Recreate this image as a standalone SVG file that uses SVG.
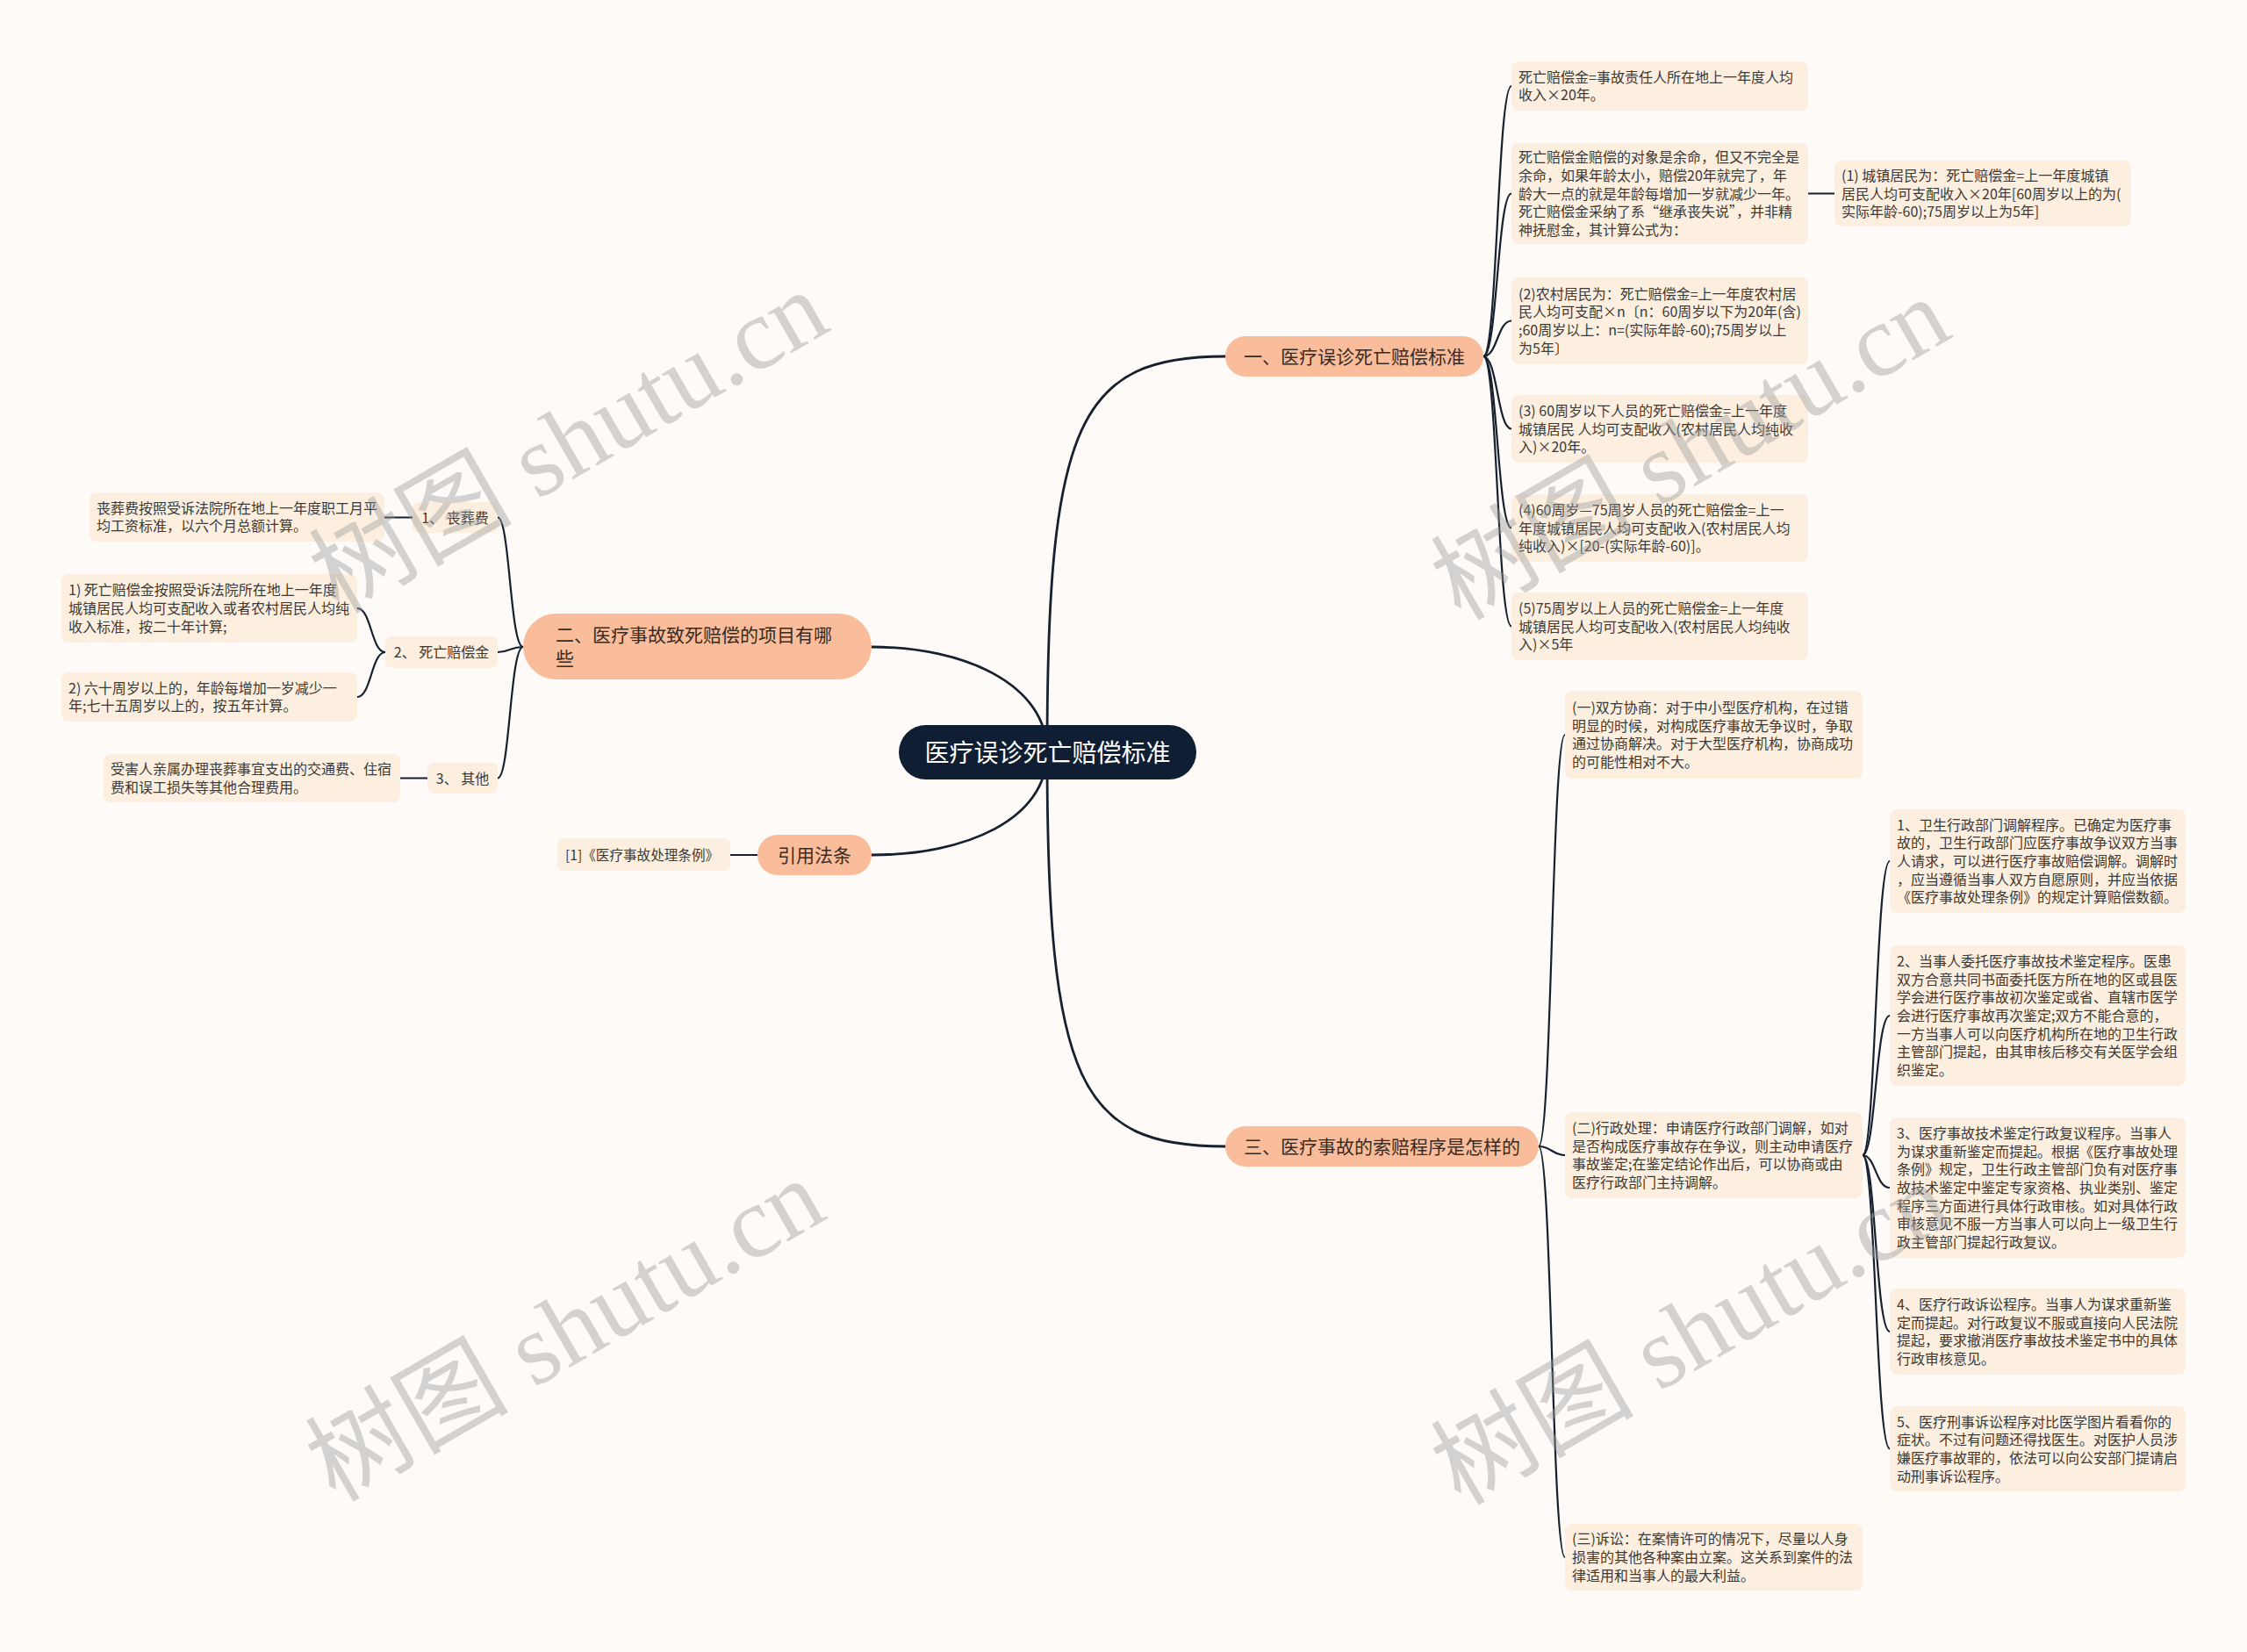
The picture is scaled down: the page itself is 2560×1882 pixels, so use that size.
<svg xmlns="http://www.w3.org/2000/svg" width="2560" height="1882" viewBox="0 0 2560 1882">
<style>
.bg{fill:#fdfaf7}
.ln{fill:none;stroke:#17202e;stroke-width:2.2;stroke-linecap:round}
.lnm{fill:none;stroke:#17202e;stroke-width:2.8;stroke-linecap:round}
.root{fill:#0f1e33}
.rt{font-family:"Noto Sans CJK SC","Noto Sans",sans-serif;font-size:28px;fill:#ffffff;text-anchor:middle}
.br{fill:#f9bd9b}
.bt{font-family:"Noto Sans CJK SC","Noto Sans",sans-serif;font-size:21px;fill:#3a2b22}
.btc{text-anchor:middle}
.lf{fill:#fcefe0}
.lt{font-family:"Noto Sans CJK SC","Noto Sans",sans-serif;font-size:16px;fill:#3d3935}
.ltc{text-anchor:middle}
.wm{font-family:"Liberation Serif","Noto Sans CJK SC",serif;font-size:116px;fill:#9a9a9a;fill-opacity:0.42;text-anchor:middle}
</style>
<rect class="bg" x="0" y="0" width="2560" height="1882"/>

<g id="connectors">
  <path class="lnm" d="M1193 857 C1193 480 1230 406 1396 406"/>
  <path class="lnm" d="M1193 857 C1193 1234 1230 1306 1396 1306"/>
  <path class="lnm" d="M993 737 C1100 737 1193 780 1193 857"/>
  <path class="lnm" d="M993 974 C1100 974 1193 934 1193 857"/>
  <path class="ln" d="M1690 406 C1706 406 1706 98 1722 98"/>
  <path class="ln" d="M1690 406 C1706 406 1706 220.5 1722 220.5"/>
  <path class="ln" d="M1690 406 C1706 406 1706 365.5 1722 365.5"/>
  <path class="ln" d="M1690 406 C1706 406 1706 488.5 1722 488.5"/>
  <path class="ln" d="M1690 406 C1706 406 1706 601.5 1722 601.5"/>
  <path class="ln" d="M1690 406 C1706 406 1706 713.5 1722 713.5"/>
  <path class="ln" d="M2060 220.5 L2090 220.5"/>
  <path class="ln" d="M1753 1306 C1768 1306 1768 837 1783 837"/>
  <path class="ln" d="M1753 1306 C1768 1306 1768 1316 1783 1316"/>
  <path class="ln" d="M1753 1306 C1768 1306 1768 1774 1783 1774"/>
  <path class="ln" d="M2122 1316 C2137 1316 2137 981 2153 981"/>
  <path class="ln" d="M2122 1316 C2137 1316 2137 1157 2153 1157"/>
  <path class="ln" d="M2122 1316 C2137 1316 2137 1353 2153 1353"/>
  <path class="ln" d="M2122 1316 C2137 1316 2137 1517 2153 1517"/>
  <path class="ln" d="M2122 1316 C2137 1316 2137 1650.5 2153 1650.5"/>
  <path class="ln" d="M596 737 C581 737 581 589.5 567 589.5"/>
  <path class="ln" d="M596 737 C581 737 581 743 567 743"/>
  <path class="ln" d="M596 737 C581 737 581 886.5 567 886.5"/>
  <path class="ln" d="M438 589.5 L470 589.5"/>
  <path class="ln" d="M456 886.5 L487 886.5"/>
  <path class="ln" d="M439 743 C423 743 423 693 407 693"/>
  <path class="ln" d="M439 743 C423 743 423 794 407 794"/>
  <path class="ln" d="M832 974 L863 974"/>
</g>

<g id="root">
  <rect class="root" x="1024" y="826" width="339" height="62" rx="31"/>
  <text class="rt" x="1193.5" y="867.5">医疗误诊死亡赔偿标准</text>
</g>

<g id="branch1">
  <rect class="br" x="1396" y="383" width="294" height="46" rx="23"/>
  <text class="bt btc" x="1543" y="414">一、医疗误诊死亡赔偿标准</text>
</g>
<g id="branch2">
  <rect class="br" x="596" y="699" width="397" height="75" rx="37.5"/>
  <text class="bt" x="633" y="731">二、医疗事故致死赔偿的项目有哪</text>
  <text class="bt" x="633" y="758">些</text>
</g>
<g id="branch3">
  <rect class="br" x="1396" y="1283" width="357" height="46" rx="23"/>
  <text class="bt btc" x="1574.5" y="1314">三、医疗事故的索赔程序是怎样的</text>
</g>
<g id="branch4">
  <rect class="br" x="863" y="951" width="130" height="46" rx="23"/>
  <text class="bt btc" x="928" y="982">引用法条</text>
</g>

<g id="n1a">
  <rect class="lf" x="1722" y="70" width="338" height="56" rx="8"/>
  <text class="lt" x="1730" y="93.6">死亡赔偿金=事故责任人所在地上一年度人均</text>
  <text class="lt" x="1730" y="114.4">收入×20年。</text>
</g>
<g id="n1b">
  <rect class="lf" x="1722" y="163" width="338" height="115" rx="8"/>
  <text class="lt" x="1730" y="185">死亡赔偿金赔偿的对象是余命，但又不完全是</text>
  <text class="lt" x="1730" y="206">余命，如果年龄太小，赔偿20年就完了，年</text>
  <text class="lt" x="1730" y="226.5">龄大一点的就是年龄每增加一岁就减少一年。</text>
  <text class="lt" x="1730" y="247">死亡赔偿金采纳了系“继承丧失说”，并非精</text>
  <text class="lt" x="1730" y="268">神抚慰金，其计算公式为：</text>
</g>
<g id="n1b1">
  <rect class="lf" x="2090" y="183" width="338" height="75" rx="8"/>
  <text class="lt" x="2098" y="206">(1) 城镇居民为：死亡赔偿金=上一年度城镇</text>
  <text class="lt" x="2098" y="226.5">居民人均可支配收入×20年[60周岁以上的为(</text>
  <text class="lt" x="2098" y="247">实际年龄-60);75周岁以上为5年]</text>
</g>
<g id="n1c">
  <rect class="lf" x="1722" y="316" width="338" height="99" rx="8"/>
  <text class="lt" x="1730" y="340.5">(2)农村居民为：死亡赔偿金=上一年度农村居</text>
  <text class="lt" x="1730" y="361">民人均可支配×n〔n：60周岁以下为20年(含)</text>
  <text class="lt" x="1730" y="382">;60周岁以上：n=(实际年龄-60);75周岁以上</text>
  <text class="lt" x="1730" y="402.5">为5年〕</text>
</g>
<g id="n1d">
  <rect class="lf" x="1722" y="450" width="338" height="77" rx="8"/>
  <text class="lt" x="1730" y="474">(3) 60周岁以下人员的死亡赔偿金=上一年度</text>
  <text class="lt" x="1730" y="494.5">城镇居民 人均可支配收入(农村居民人均纯收</text>
  <text class="lt" x="1730" y="515">入)×20年。</text>
</g>
<g id="n1e">
  <rect class="lf" x="1722" y="563" width="338" height="77" rx="8"/>
  <text class="lt" x="1730" y="587">(4)60周岁—75周岁人员的死亡赔偿金=上一</text>
  <text class="lt" x="1730" y="607.5">年度城镇居民人均可支配收入(农村居民人均</text>
  <text class="lt" x="1730" y="628">纯收入)×[20-(实际年龄-60)]。</text>
</g>
<g id="n1f">
  <rect class="lf" x="1722" y="675" width="338" height="77" rx="8"/>
  <text class="lt" x="1730" y="699">(5)75周岁以上人员的死亡赔偿金=上一年度</text>
  <text class="lt" x="1730" y="719.5">城镇居民人均可支配收入(农村居民人均纯收</text>
  <text class="lt" x="1730" y="740">入)×5年</text>
</g>

<g id="n3a">
  <rect class="lf" x="1783" y="787" width="339" height="100" rx="8"/>
  <text class="lt" x="1791" y="812">(一)双方协商：对于中小型医疗机构，在过错</text>
  <text class="lt" x="1791" y="832.7">明显的时候，对构成医疗事故无争议时，争取</text>
  <text class="lt" x="1791" y="853.4">通过协商解决。对于大型医疗机构，协商成功</text>
  <text class="lt" x="1791" y="874">的可能性相对不大。</text>
</g>
<g id="n3b">
  <rect class="lf" x="1783" y="1267" width="339" height="98" rx="8"/>
  <text class="lt" x="1791" y="1291">(二)行政处理：申请医疗行政部门调解，如对</text>
  <text class="lt" x="1791" y="1311.7">是否构成医疗事故存在争议，则主动申请医疗</text>
  <text class="lt" x="1791" y="1332.4">事故鉴定;在鉴定结论作出后，可以协商或由</text>
  <text class="lt" x="1791" y="1353">医疗行政部门主持调解。</text>
</g>
<g id="n3c">
  <rect class="lf" x="1783" y="1736" width="339" height="76" rx="8"/>
  <text class="lt" x="1791" y="1759.3">(三)诉讼：在案情许可的情况下，尽量以人身</text>
  <text class="lt" x="1791" y="1780">损害的其他各种案由立案。这关系到案件的法</text>
  <text class="lt" x="1791" y="1800.7">律适用和当事人的最大利益。</text>
</g>

<g id="n3b1">
  <rect class="lf" x="2153" y="922" width="337" height="118" rx="8"/>
  <text class="lt" x="2161" y="945.6">1、卫生行政部门调解程序。已确定为医疗事</text>
  <text class="lt" x="2161" y="966.3">故的，卫生行政部门应医疗事故争议双方当事</text>
  <text class="lt" x="2161" y="987">人请求，可以进行医疗事故赔偿调解。调解时</text>
  <text class="lt" x="2161" y="1007.7">，应当遵循当事人双方自愿原则，并应当依据</text>
  <text class="lt" x="2161" y="1028.4">《医疗事故处理条例》的规定计算赔偿数额。</text>
</g>
<g id="n3b2">
  <rect class="lf" x="2153" y="1077" width="337" height="160" rx="8"/>
  <text class="lt" x="2161" y="1100.9">2、当事人委托医疗事故技术鉴定程序。医患</text>
  <text class="lt" x="2161" y="1121.6">双方合意共同书面委托医方所在地的区或县医</text>
  <text class="lt" x="2161" y="1142.3">学会进行医疗事故初次鉴定或省、直辖市医学</text>
  <text class="lt" x="2161" y="1163">会进行医疗事故再次鉴定;双方不能合意的，</text>
  <text class="lt" x="2161" y="1183.7">一方当事人可以向医疗机构所在地的卫生行政</text>
  <text class="lt" x="2161" y="1204.4">主管部门提起，由其审核后移交有关医学会组</text>
  <text class="lt" x="2161" y="1225.1">织鉴定。</text>
</g>
<g id="n3b3">
  <rect class="lf" x="2153" y="1273" width="337" height="160" rx="8"/>
  <text class="lt" x="2161" y="1296.9">3、医疗事故技术鉴定行政复议程序。当事人</text>
  <text class="lt" x="2161" y="1317.6">为谋求重新鉴定而提起。根据《医疗事故处理</text>
  <text class="lt" x="2161" y="1338.3">条例》规定，卫生行政主管部门负有对医疗事</text>
  <text class="lt" x="2161" y="1359">故技术鉴定中鉴定专家资格、执业类别、鉴定</text>
  <text class="lt" x="2161" y="1379.7">程序三方面进行具体行政审核。如对具体行政</text>
  <text class="lt" x="2161" y="1400.4">审核意见不服一方当事人可以向上一级卫生行</text>
  <text class="lt" x="2161" y="1421.1">政主管部门提起行政复议。</text>
</g>
<g id="n3b4">
  <rect class="lf" x="2153" y="1468" width="337" height="98" rx="8"/>
  <text class="lt" x="2161" y="1492">4、医疗行政诉讼程序。当事人为谋求重新鉴</text>
  <text class="lt" x="2161" y="1512.7">定而提起。对行政复议不服或直接向人民法院</text>
  <text class="lt" x="2161" y="1533.4">提起，要求撤消医疗事故技术鉴定书中的具体</text>
  <text class="lt" x="2161" y="1554">行政审核意见。</text>
</g>
<g id="n3b5">
  <rect class="lf" x="2153" y="1602" width="337" height="97" rx="8"/>
  <text class="lt" x="2161" y="1625.5">5、医疗刑事诉讼程序对比医学图片看看你的</text>
  <text class="lt" x="2161" y="1646.2">症状。不过有问题还得找医生。对医护人员涉</text>
  <text class="lt" x="2161" y="1666.9">嫌医疗事故罪的，依法可以向公安部门提请启</text>
  <text class="lt" x="2161" y="1687.5">动刑事诉讼程序。</text>
</g>

<g id="n2a">
  <rect class="lf" x="470" y="572" width="97" height="35" rx="7"/>
  <text class="lt ltc" x="518.5" y="595.5">1、 丧葬费</text>
</g>
<g id="n2a1">
  <rect class="lf" x="102" y="561" width="336" height="56" rx="8"/>
  <text class="lt" x="110" y="584.7">丧葬费按照受诉法院所在地上一年度职工月平</text>
  <text class="lt" x="110" y="605.4">均工资标准，以六个月总额计算。</text>
</g>
<g id="n2b">
  <rect class="lf" x="439" y="725" width="128" height="36" rx="7"/>
  <text class="lt ltc" x="503" y="749">2、 死亡赔偿金</text>
</g>
<g id="n2b1">
  <rect class="lf" x="70" y="654" width="337" height="78" rx="8"/>
  <text class="lt" x="78" y="678.3">1) 死亡赔偿金按照受诉法院所在地上一年度</text>
  <text class="lt" x="78" y="699">城镇居民人均可支配收入或者农村居民人均纯</text>
  <text class="lt" x="78" y="719.7">收入标准，按二十年计算;</text>
</g>
<g id="n2b2">
  <rect class="lf" x="70" y="766" width="337" height="56" rx="8"/>
  <text class="lt" x="78" y="789.7">2) 六十周岁以上的，年龄每增加一岁减少一</text>
  <text class="lt" x="78" y="810.4">年;七十五周岁以上的，按五年计算。</text>
</g>
<g id="n2c">
  <rect class="lf" x="487" y="869" width="80" height="35" rx="7"/>
  <text class="lt ltc" x="527" y="892.5">3、 其他</text>
</g>
<g id="n2c1">
  <rect class="lf" x="118" y="859" width="338" height="55" rx="8"/>
  <text class="lt" x="126" y="882">受害人亲属办理丧葬事宜支出的交通费、住宿</text>
  <text class="lt" x="126" y="903">费和误工损失等其他合理费用。</text>
</g>

<g id="n4a">
  <rect class="lf" x="635" y="955" width="197" height="37" rx="7"/>
  <text class="lt" x="644" y="980" style="font-size:15.6px">[1]《医疗事故处理条例》</text>
</g>

<g id="watermark">
  <text class="wm" x="647" y="543" transform="rotate(-30 647 502)">树图 shutu.cn</text>
  <text class="wm" x="1925" y="551" transform="rotate(-30 1925 510)">树图 shutu.cn</text>
  <text class="wm" x="643" y="1555" transform="rotate(-30 643 1514)">树图 shutu.cn</text>
  <text class="wm" x="1925" y="1559" transform="rotate(-30 1925 1518)">树图 shutu.cn</text>
</g>
</svg>
